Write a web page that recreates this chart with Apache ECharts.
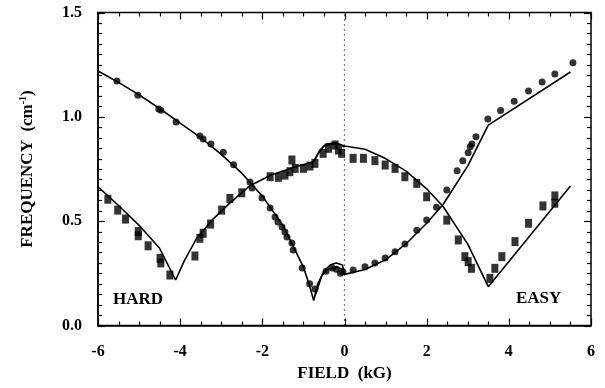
<!DOCTYPE html>
<html>
<head>
<meta charset="utf-8">
<script src="https://cdn.jsdelivr.net/npm/echarts@6/dist/echarts.min.js"></script>
<style>
  html, body { margin: 0; padding: 0; background: #fff; }
  #chart { width: 605px; height: 388px; }
</style>
</head>
<body>
<div id="chart"></div>
<script>
// measured points (circles)
const circleX = [-5.54, -5.03, -4.52, -4.47, -4.10, -3.52, -3.44, -3.25, -2.95, -2.70,
  -2.30, -2.25, -2.01, -1.81, -1.69, -1.62, -1.52, -1.45, -1.40, -1.28, -1.25, -1.03, -0.85, -0.72,
  -0.45, -0.30, -0.20, -0.10, -0.04, 0.21, 0.50, 0.74, 0.99, 1.23, 1.47, 1.76, 2.00, 2.24, 2.49,
  2.74, 2.88, 3.01, 3.06, 3.10, 3.20, 3.49, 3.80, 4.13, 4.48, 4.81, 5.12, 5.56];
const circleY = [1.172, 1.104, 1.037, 1.032, 0.975, 0.908, 0.894, 0.870, 0.83, 0.77,
  0.688, 0.659, 0.611, 0.563, 0.520, 0.496, 0.472, 0.448, 0.424, 0.395, 0.362, 0.276, 0.200, 0.175,
  0.26, 0.275, 0.27, 0.25, 0.258, 0.266, 0.282, 0.300, 0.323, 0.354, 0.390, 0.457, 0.505, 0.567, 0.649,
  0.742, 0.790, 0.828, 0.857, 0.870, 0.905, 0.990, 1.030, 1.075, 1.124, 1.167, 1.205, 1.259];

// measured points (squares)
const squareX = [-5.76, -5.52, -5.33, -5.02, -5.02, -4.78, -4.49, -4.47, -4.25, -3.64, -3.52, -3.44,
  -3.26, -2.99, -2.79, -2.50, -1.81, -1.61, -1.45, -1.33, -1.28, -1.20, -1.00, -0.84, -0.72, -0.52,
  -0.39, -0.23, -0.15, -0.07, 0.21, 0.46, 0.74, 0.99, 1.23, 1.47, 1.76, 2.00, 2.49, 2.77, 2.93, 3.01,
  3.09, 3.54, 3.66, 3.83, 4.15, 4.48, 4.83, 5.12, 5.12];
const squareY = [0.605, 0.553, 0.510, 0.450, 0.430, 0.382, 0.322, 0.300, 0.242, 0.333, 0.418, 0.442,
  0.486, 0.553, 0.609, 0.636, 0.713, 0.710, 0.721, 0.737, 0.793, 0.753, 0.753, 0.764, 0.777, 0.825,
  0.849, 0.865, 0.841, 0.825, 0.801, 0.801, 0.790, 0.769, 0.753, 0.713, 0.681, 0.617, 0.505, 0.410, 0.330, 0.306,
  0.274, 0.226, 0.274, 0.330, 0.402, 0.490, 0.573, 0.621, 0.586];

// theory curves
const lineAX = [-6, -5.5, -5, -4.5, -4, -3.5, -3, -2.5, -2, -1.5, -1.25, -1.0, -0.85, -0.75, -0.65, -0.5,
  -0.35, -0.2, -0.05, 0, 0.5, 1.0, 1.5, 2.0, 2.4, 3.0, 3.5, 5.5];
const lineAY = [1.22, 1.165, 1.105, 1.04, 0.97, 0.90, 0.82, 0.73, 0.62, 0.48, 0.38, 0.28, 0.19, 0.12, 0.20, 0.26,
  0.29, 0.30, 0.29, 0.245, 0.268, 0.315, 0.392, 0.49, 0.58, 0.765, 0.96, 1.215];
const arcAX = [-0.72, -0.55, -0.4, -0.2, -0.05, 0];
const arcAY = [0.14, 0.24, 0.27, 0.28, 0.27, 0.245];

const lineBX = [-6, -5.5, -5, -4.5, -4.11, -3.9, -3.6, -3.2, -2.8, -2.3, -1.8, -1.2, -0.75, -0.6, -0.45,
  -0.2, 0, 0.5, 1.0, 1.5, 2.0, 2.4, 3.0, 3.5, 5.5];
const lineBY = [0.665, 0.575, 0.48, 0.37, 0.218, 0.31, 0.418, 0.51, 0.585, 0.67, 0.72, 0.76, 0.785, 0.84, 0.87,
  0.875, 0.86, 0.845, 0.80, 0.74, 0.655, 0.57, 0.39, 0.186, 0.668];
const arcBX = [-0.75, -0.65, -0.5, -0.3, -0.1, 0];
const arcBY = [0.785, 0.82, 0.86, 0.87, 0.865, 0.855];

// tick positions (axis values), major and minor
const xMajor = [-6, -4, -2, 0, 2, 4, 6];
const xMinor = [-5.5, -5, -4.5, -3.5, -3, -2.5, -1.5, -1, -0.5, 0.5, 1, 1.5, 2.5, 3, 3.5, 4.5, 5, 5.5];
const yMajor = [0, 0.5, 1.0, 1.5];
const yMinor = [0.05, 0.1, 0.15, 0.2, 0.25, 0.3, 0.35, 0.4, 0.45, 0.55, 0.6, 0.65, 0.7, 0.75, 0.8, 0.85, 0.9, 0.95,
  1.05, 1.1, 1.15, 1.2, 1.25, 1.3, 1.35, 1.4, 1.45];

const zip = (xs, ys) => xs.map((x, i) => [x, ys[i]]);
const font = 'Liberation Serif';

// tick data: [value, axis (0 = x, 1 = y), length]
const tickData = []
  .concat(xMajor.map(v => [v, 0, 7]), xMinor.map(v => [v, 0, 4]))
  .concat(yMajor.map(v => [v, 1, 7]), yMinor.map(v => [v, 1, 4]));

function renderTick(params, api) {
  const cs = params.coordSys;
  const v = api.value(0), isY = api.value(1) === 1, len = api.value(2);
  const style = { stroke: '#000', lineWidth: 1.2 };
  if (!isY) {
    const px = Math.round(api.coord([v, 0])[0]) + 0.5;
    return { type: 'group', children: [
      { type: 'line', shape: { x1: px, y1: cs.y + cs.height, x2: px, y2: cs.y + cs.height - len }, style: style },
      { type: 'line', shape: { x1: px, y1: cs.y, x2: px, y2: cs.y + len }, style: style }
    ] };
  }
  const py = Math.round(api.coord([-6, v])[1]) + 0.5;
  return { type: 'group', children: [
    { type: 'line', shape: { x1: cs.x, y1: py, x2: cs.x + len, y2: py }, style: style },
    { type: 'line', shape: { x1: cs.x + cs.width, y1: py, x2: cs.x + cs.width - len, y2: py }, style: style }
  ] };
}

function line(xs, ys) {
  return {
    type: 'line', symbol: 'none', silent: true,
    lineStyle: { color: '#000', width: 1.6 },
    data: zip(xs, ys)
  };
}

const frameLine = { show: true, onZero: false, lineStyle: { color: '#000', width: 1.5 } };

const chart = echarts.init(document.getElementById('chart'));
chart.setOption({
  animation: false,
  grid: { left: 98, right: 14, top: 12.5, bottom: 62.5, show: true, borderColor: '#000', borderWidth: 1.5 },
  xAxis: {
    type: 'value', min: -6, max: 6, interval: 2,
    axisLine: frameLine,
    axisTick: { show: false },
    splitLine: { show: false },
    axisLabel: { color: '#000', fontFamily: font, fontWeight: 'bold', fontSize: 16, margin: 18 },
    name: 'FIELD  (kG)', nameLocation: 'middle', nameGap: 40,
    nameTextStyle: { color: '#000', fontFamily: font, fontWeight: 'bold', fontSize: 17 }
  },
  yAxis: {
    type: 'value', min: 0, max: 1.5, interval: 0.5,
    axisLine: frameLine,
    axisTick: { show: false },
    splitLine: { show: false },
    axisLabel: { color: '#000', fontFamily: font, fontWeight: 'bold', fontSize: 16, margin: 16,
      formatter: v => v.toFixed(1) },
    name: '{a|FREQUENCY  (cm}{s|-1}{a|)}', nameLocation: 'middle', nameGap: 60, nameRotate: 90,
    nameTextStyle: {
      color: '#000', fontFamily: font, fontWeight: 'bold', fontSize: 17,
      rich: {
        a: { color: '#000', fontFamily: font, fontWeight: 'bold', fontSize: 17, lineHeight: 20 },
        s: { color: '#000', fontFamily: font, fontWeight: 'bold', fontSize: 10, verticalAlign: 'top', lineHeight: 10 }
      }
    }
  },
  series: [
    {
      type: 'custom', silent: true, clip: false, z: 10,
      renderItem: renderTick,
      data: tickData
    },
    Object.assign(line(lineAX, lineAY), {
      markLine: {
        silent: true, symbol: 'none', label: { show: false },
        lineStyle: { color: '#000', type: [1, 4], width: 1.2 },
        data: [{ xAxis: 0 }]
      }
    }),
    line(arcAX, arcAY),
    line(lineBX, lineBY),
    line(arcBX, arcBY),
    {
      type: 'scatter', symbol: 'circle', symbolSize: 7,
      itemStyle: { color: '#000' },
      data: zip(circleX, circleY)
    },
    {
      type: 'scatter', symbol: 'rect', symbolSize: [7, 9],
      itemStyle: { color: '#000' },
      data: zip(squareX, squareY)
    }
  ],
  graphic: [
    { type: 'text', left: 113, top: 291,
      style: { text: 'HARD', fill: '#000', font: 'bold 17px "Liberation Serif"' } },
    { type: 'text', left: 516, top: 290,
      style: { text: 'EASY', fill: '#000', font: 'bold 17px "Liberation Serif"' } }
  ]
});
</script>
</body>
</html>
